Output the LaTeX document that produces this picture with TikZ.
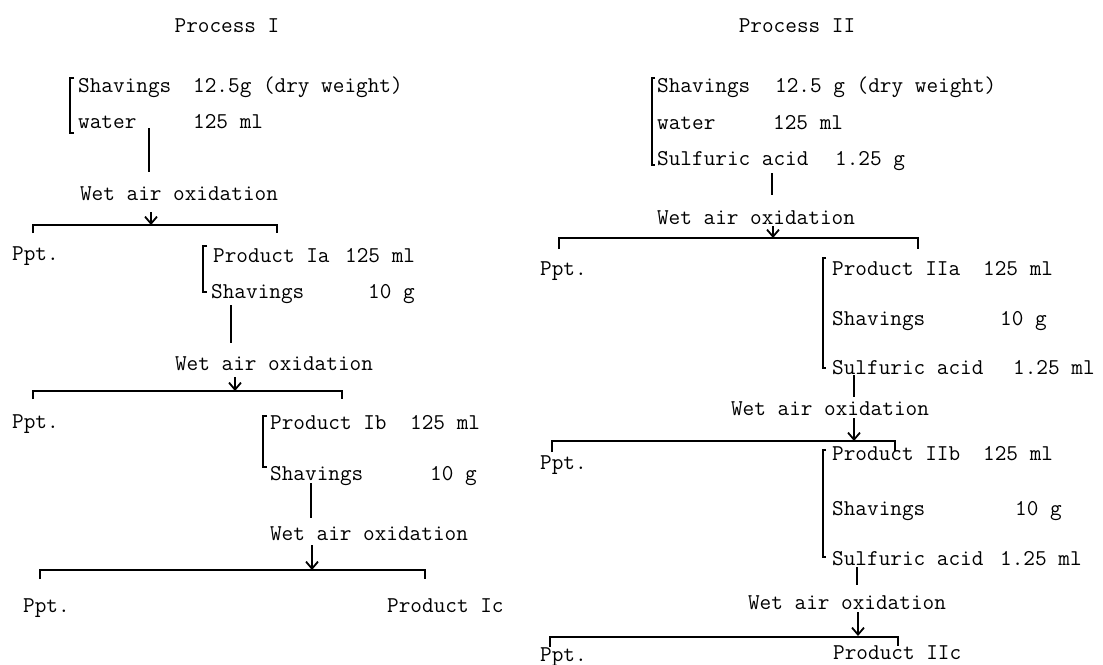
\documentclass[tikz,border=0pt]{standalone}
\usepackage{fontspec}
\usepackage{tikz}
\usetikzlibrary{arrows.meta}
\usetikzlibrary{positioning}

\begin{document}
\begin{tikzpicture}[x=1pt, y=-1pt,
  font=\ttfamily\fontsize{22.6}{26}\selectfont,
  txt/.style={anchor=west, inner sep=0pt, text height=14pt, text depth=0pt},
  ttl/.style={txt, anchor=center},
  ln/.style={line width=1.8pt},
  arr/.style={ln, -{Straight Barb[length=7pt, width=12pt]}}]

\useasboundingbox (0,0) rectangle (1103,664);

% Process I
\node[ttl] (p1) at (227,25) {Process I};

\node[txt] (sh1) at (78,85) {Shavings};
\node[txt] (sh1v) at (193,85) {12.5g (dry weight)};
\node[txt] (wa1) at (78,121) {water};
\node[txt] (wa1v) at (193,121) {125 ml};
\draw[ln] (74,78) -- (70,78) -- (70,133) -- (74,133);

\coordinate (t1) at (149,128);
\coordinate (u1) at (149,172);
\path[draw, ln] (t1) -- (u1);

\node[ttl] (w1) at (179,193) {Wet air oxidation};
\coordinate (d1) at (151,212);
\coordinate (j1) at (151,225);
\path[draw, arr] (d1) -- (j1);

\coordinate (l1) at (33,225);
\coordinate (r1) at (277,225);
\path[draw, ln] (l1) ++(0,8) -- (l1) -- (r1) -- ++(0,8);

\node[txt] (ppt1) at (12,253) {Ppt.};

\node[txt] (pa) at (213,255) {Product Ia};
\node[txt] (pav) at (345,255) {125 ml};
\node[txt] (sh2) at (211,291) {Shavings};
\node[txt] (sh2v) at (368,291) {10 g};
\draw[ln] (207,246) -- (203,246) -- (203,292) -- (207,292);

\coordinate (t2) at (231,305);
\coordinate (u2) at (231,343);
\path[draw, ln] (t2) -- (u2);

\node[ttl] (w2) at (274,363) {Wet air oxidation};
\coordinate (d2) at (235,377);
\coordinate (j2) at (235,391);
\path[draw, arr] (d2) -- (j2);

\coordinate (l2) at (33,391);
\coordinate (r2) at (342,391);
\path[draw, ln] (l2) ++(0,8) -- (l2) -- (r2) -- ++(0,8);

\node[txt] (ppt2) at (12,421) {Ppt.};

\node[txt] (pb) at (270,422) {Product Ib};
\node[txt] (pbv) at (410,422) {125 ml};
\node[txt] (sh3) at (270,473) {Shavings};
\node[txt] (sh3v) at (430,473) {10 g};
\draw[ln] (267,416) -- (263,416) -- (263,467) -- (267,467);

\coordinate (t3) at (311,483);
\coordinate (u3) at (311,518);
\path[draw, ln] (t3) -- (u3);

\node[ttl] (w3) at (369,533) {Wet air oxidation};
\coordinate (d3) at (312,545);
\coordinate (j3) at (312,570);
\path[draw, arr] (d3) -- (j3);

\coordinate (l3) at (40,570);
\coordinate (r3) at (425,570);
\path[draw, ln] (l3) ++(0,9) -- (l3) -- (r3) -- ++(0,9);

\node[txt] (ppt3) at (23,605) {Ppt.};
\node[txt] (pc) at (387,605) {Product Ic};

% Process II
\node[ttl] (p2) at (797,25) {Process II};

\node[txt] (sh4) at (657,85) {Shavings};
\node[txt] (sh4v) at (775,85) {12.5 g (dry weight)};
\node[txt] (wa4) at (657,122) {water};
\node[txt] (wa4v) at (773,122) {125 ml};
\node[txt] (sa4) at (657,158) {Sulfuric acid};
\node[txt] (sa4v) at (835,158) {1.25 g};
\draw[ln] (655,78) -- (652,78) -- (652,165) -- (655,165);

\coordinate (t4) at (772,173);
\coordinate (u4) at (772,195);
\path[draw, ln] (t4) -- (u4);

\node[ttl] (w4) at (756,217) {Wet air oxidation};
\coordinate (d4) at (773,226);
\coordinate (j4) at (773,238);
\path[draw, arr] (d4) -- (j4);

\coordinate (l4) at (559,238);
\coordinate (r4) at (918,238);
\path[draw, ln] (l4) ++(0,11) -- (l4) -- (r4) -- ++(0,11);

\node[txt] (ppt4) at (540,268) {Ppt.};

\node[txt] (pIIa) at (832,268) {Product IIa};
\node[txt] (pIIav) at (983,268) {125 ml};
\node[txt] (sh5) at (832,318) {Shavings};
\node[txt] (sh5v) at (1000,318) {10 g};
\node[txt] (sa5) at (832,367) {Sulfuric acid};
\node[txt] (sa5v) at (1013,367) {1.25 ml};
\draw[ln] (826,258) -- (823,258) -- (823,368) -- (826,368);

\coordinate (t5) at (854,375);
\coordinate (u5) at (854,397);
\path[draw, ln] (t5) -- (u5);

\node[ttl] (w5) at (830,408) {Wet air oxidation};
\coordinate (d5) at (854,418);
\coordinate (j5) at (854,441);
\path[draw, arr] (d5) -- (j5);

\coordinate (l5) at (552,441);
\coordinate (r5) at (895,441);
\path[draw, ln] (l5) ++(0,11) -- (l5) -- (r5) -- ++(0,10);

\node[txt] (ppt5) at (540,462) {Ppt.};

\node[txt] (pIIb) at (832,453) {Product IIb};
\node[txt] (pIIbv) at (983,453) {125 ml};
\node[txt] (sh6) at (832,508) {Shavings};
\node[txt] (sh6v) at (1015,508) {10 g};
\node[txt] (sa6) at (832,558) {Sulfuric acid};
\node[txt] (sa6v) at (1000,558) {1.25 ml};
\draw[ln] (826,450) -- (823,450) -- (823,557) -- (826,557);

\coordinate (t6) at (857,567);
\coordinate (u6) at (857,585);
\path[draw, ln] (t6) -- (u6);

\node[ttl] (w6) at (847,602) {Wet air oxidation};
\coordinate (d6) at (858,612);
\coordinate (j6) at (858,636);
\path[draw, arr] (d6) -- (j6);

\coordinate (l6) at (550,637);
\coordinate (r6) at (898,637);
\path[draw, ln] (l6) ++(0,10) -- (l6) -- (r6) -- ++(0,9);

\node[txt] (ppt6) at (540,654) {Ppt.};
\node[txt] (pIIc) at (833,652) {Product IIc};

\end{tikzpicture}
\end{document}
